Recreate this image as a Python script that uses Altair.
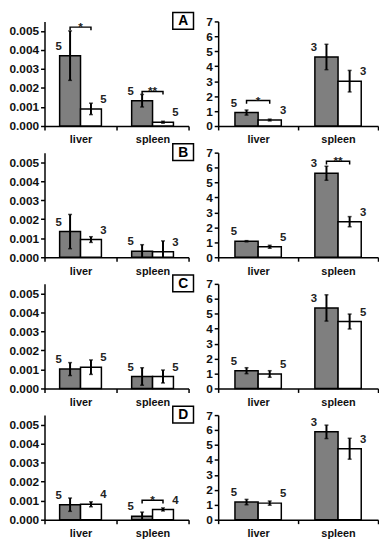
import altair as alt
import pandas as pd

organs = ["liver", "spleen"]
groups = ["group 1", "group 2"]
letters = ["A", "B", "C", "D"]

# order of values: liver g1, liver g2, spleen g1, spleen g2
A_left_mean = [0.0037, 0.0009, 0.00133, 0.0002]
A_left_err = [0.0013, 0.0003, 0.00033, 0.00005]
A_left_n = [5, 5, 5, 5]
A_right_mean = [0.9, 0.4, 4.62, 3.0]
A_right_err = [0.17, 0.06, 0.85, 0.72]
A_right_n = [5, 3, 3, 3]

B_left_mean = [0.00135, 0.00093, 0.00032, 0.00029]
B_left_err = [0.0009, 0.00015, 0.00034, 0.00057]
B_left_n = [5, 3, 5, 3]
B_right_mean = [1.07, 0.7, 5.62, 2.38]
B_right_err = [0.04, 0.1, 0.47, 0.34]
B_right_n = [5, 5, 3, 3]

C_left_mean = [0.00102, 0.00112, 0.00063, 0.00063]
C_left_err = [0.00034, 0.00038, 0.00046, 0.00034]
C_left_n = [5, 5, 5, 5]
C_right_mean = [1.19, 0.97, 5.39, 4.48]
C_right_err = [0.2, 0.22, 0.88, 0.5]
C_right_n = [5, 5, 3, 5]

D_left_mean = [0.00079, 0.00081, 0.00018, 0.00054]
D_left_err = [0.00035, 0.00013, 0.00022, 0.00008]
D_left_n = [5, 4, 5, 4]
D_right_mean = [1.18, 1.11, 5.88, 4.75]
D_right_err = [0.18, 0.14, 0.45, 0.7]
D_right_n = [5, 5, 3, 3]

# significance brackets: (organ, stars, bracket height)
A_left_sig = [("liver", "*", 0.0052), ("spleen", "**", 0.00182)]
A_right_sig = [("liver", "*", 1.7)]
B_left_sig = []
B_right_sig = [("spleen", "**", 6.42)]
C_left_sig = []
C_right_sig = []
D_left_sig = [("spleen", "*", 0.00102)]
D_right_sig = []

left_ticks = [0, 0.001, 0.002, 0.003, 0.004, 0.005]
right_ticks = [0, 1, 2, 3, 4, 5, 6, 7]

FONT = "Liberation Sans"
HALF = 0.29  # bar width in category units
H = 106
LW, RW = 146, 162


def panel(means, errs, ns, sigs, ymax, ticks, fmt, width, letter=None):
    rows = []
    for i, organ in enumerate(organs):
        for j, grp in enumerate(groups):
            k = i * 2 + j
            rows.append(dict(organ=organ, group=grp, idx=i, side=j,
                             mean=means[k], err=errs[k], n=ns[k]))
    df = pd.DataFrame(rows)
    base = alt.Chart(df).transform_calculate(
        x0=f"datum.side == 0 ? datum.idx + 0.5 - {HALF} : datum.idx + 0.5",
        x1=f"datum.side == 0 ? datum.idx + 0.5 : datum.idx + 0.5 + {HALF}",
        lo="max(0, datum.mean - datum.err)",
        hi="datum.mean + datum.err",
    ).transform_calculate(xm="(datum.x0 + datum.x1) / 2")

    xscale = alt.Scale(domain=[0, 2], nice=False, zero=False)
    yscale = alt.Scale(domain=[0, ymax], nice=False)
    xaxis = alt.Axis(
        values=[0, 0.5, 1, 1.5, 2],
        labelExpr="datum.value == 0.5 ? 'liver' : datum.value == 1.5 ? 'spleen' : ''",
        tickOpacity={"condition": {"test": "datum.value == 0.5 || datum.value == 1.5", "value": 0}, "value": 1},
        grid=False, tickSize=4, labelPadding=4, labelFlush=False, labelOverlap=False,
        labelFont=FONT, labelFontSize=11, labelFontWeight="bold", labelColor="#111",
        domainColor="black", domainWidth=1.5, tickColor="black", tickWidth=1.5, title=None)
    yaxis = alt.Axis(
        values=ticks, format=fmt, grid=False, tickSize=4, labelPadding=2, labelOverlap=False,
        labelFont=FONT, labelFontSize=12, labelFontWeight="bold", labelColor="#111",
        domainColor="black", domainWidth=1.5, tickColor="black", tickWidth=1.5, title=None)

    def X(f):
        return alt.X(f, type="quantitative", scale=xscale, axis=xaxis)

    def Y(f):
        return alt.Y(f, type="quantitative", scale=yscale, axis=yaxis)

    bars = base.mark_bar(stroke="black", strokeWidth=1.5).encode(
        x=X("x0"), x2="x1", y=Y("mean"), y2=alt.datum(0),
        fill=alt.Fill("group:N", scale=alt.Scale(domain=groups, range=["#7f7f7f", "#ffffff"]), legend=None),
    )
    err = base.mark_rule(color="black", strokeWidth=2).encode(x=X("xm"), y=Y("lo"), y2="hi")
    cap_hi = base.mark_tick(orient="horizontal", color="black", size=4, thickness=1.5).encode(
        x=X("xm"), y=Y("hi"))
    cap_lo = base.transform_filter("datum.lo > 0").mark_tick(
        orient="horizontal", color="black", size=4, thickness=1.5).encode(x=X("xm"), y=Y("lo"))
    lbl_g = base.transform_filter("datum.side == 0").mark_text(
        font=FONT, fontSize=11.5, fontWeight="bold", color="#222", dx=-1, dy=-9).encode(
        x=X("x0"), y=Y("mean"), text="n:Q")
    lbl_w = base.transform_filter("datum.side == 1").mark_text(
        font=FONT, fontSize=11.5, fontWeight="bold", color="#222", dx=2, dy=-9).encode(
        x=X("x1"), y=Y("mean"), text="n:Q")
    layers = [bars, err, cap_hi, cap_lo, lbl_g, lbl_w]

    if sigs:
        pts, stars = [], []
        d = ymax * 0.03
        for s, (organ, txt, yb) in enumerate(sigs):
            xc = organs.index(organ) + 0.5
            xa, xb = xc - HALF / 2, xc + HALF / 2
            for o, (px, py) in enumerate([(xa, yb - d), (xa, yb), (xb, yb), (xb, yb - d)]):
                pts.append(dict(id=s, o=o, bx=px, by=py))
            stars.append(dict(sx=xc, sy=yb, t=txt))
        br = alt.Chart(pd.DataFrame(pts)).mark_line(color="black", strokeWidth=1.5).encode(
            x=X("bx"), y=Y("by"), detail="id:N", order="o:Q")
        st = alt.Chart(pd.DataFrame(stars)).mark_text(
            font=FONT, fontSize=12, fontWeight="bold", color="#222", baseline="alphabetic", dy=4).encode(
            x=X("sx"), y=Y("sy"), text="t:N")
        layers += [br, st]

    if letter:
        ldf = pd.DataFrame({"letter": [letter]})
        box = alt.Chart(ldf).mark_rect(fill="white", stroke="black", strokeWidth=1.5).encode(
            x=alt.value(130), x2=alt.value(151), y=alt.value(-9), y2=alt.value(8))
        lt = alt.Chart(ldf).mark_text(font=FONT, fontSize=14, fontWeight="bold", color="black",
                                      baseline="middle").encode(
            x=alt.value(140.5), y=alt.value(0), text="letter:N")
        layers += [box, lt]

    return alt.layer(*layers).properties(width=width, height=H)


specs = [
    (A_left_mean, A_left_err, A_left_n, A_left_sig, A_right_mean, A_right_err, A_right_n, A_right_sig),
    (B_left_mean, B_left_err, B_left_n, B_left_sig, B_right_mean, B_right_err, B_right_n, B_right_sig),
    (C_left_mean, C_left_err, C_left_n, C_left_sig, C_right_mean, C_right_err, C_right_n, C_right_sig),
    (D_left_mean, D_left_err, D_left_n, D_left_sig, D_right_mean, D_right_err, D_right_n, D_right_sig),
]

cells = []
for letter, (lm, le, ln, ls, rm, re_, rn, rs) in zip(letters, specs):
    cells.append(panel(lm, le, ln, ls, 0.0055, left_ticks, ".3f", LW, letter))
    cells.append(panel(rm, re_, rn, rs, 7, right_ticks, "d", RW))

chart = alt.concat(*cells, columns=2, spacing={"row": 27, "column": 30}, bounds="flush", align="each").properties(
    padding=0
).configure_view(stroke=None)

chart.save("out.html", embed_options={"renderer": "svg", "actions": False})
